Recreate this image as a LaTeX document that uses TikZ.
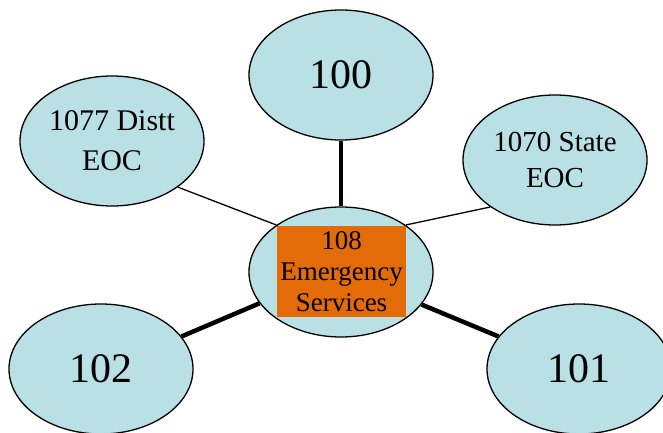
\documentclass[tikz,border=0pt]{standalone}
\usepackage{fontspec}
\setmainfont{Liberation Serif}
\usetikzlibrary{shapes.geometric}
\definecolor{bub}{HTML}{B9E0E4}
\definecolor{org}{HTML}{E36C09}
\begin{document}
\begin{tikzpicture}[x=1pt,y=-1pt,
  bubble/.style={ellipse, draw=black, line width=1.3pt, fill=bub,
    minimum width=184pt, minimum height=130pt, inner sep=0pt, align=center},
  big/.style={font=\fontsize{42}{48}\selectfont},
  mid/.style={font=\fontsize{30}{38}\selectfont},
  weaklink/.style={draw=black, line width=1.3pt},
  stronglink/.style={draw=black, line width=4.5pt},
  core/.style={rectangle, fill=org, minimum width=129pt, minimum height=91pt,
    inner sep=0pt, align=center, font=\fontsize{27}{31}\selectfont}
]
\path[use as bounding box, clip] (0,0) rectangle (663,433);

\node[bubble] (hub) at (341,272) {};
\node[core] (hubtxt) at (341.5,271.5) {108\\Emergency\\Services};

\node[bubble, big] (n100) at (341,75) {100};
\node[bubble, mid] (n1077) at (112,141) {1077 Distt\\[2pt]EOC};
\node[bubble, mid, font=\fontsize{29}{36}\selectfont] (n1070) at (555,160) {1070 State\\EOC};
\node[bubble, big] (n102) at (101,369) {102};
\node[bubble, big] (n101) at (579,369) {101};

\draw[stronglink] (n100.south) -- (hub.north);
\draw[weaklink] (n1077.-35) -- (hub.144);
\draw[weaklink] (n1070.216) -- (hub.36);
\draw[stronglink] (n102.22) -- (hub.201);
\draw[stronglink] (n101.158) -- (hub.-22);
\end{tikzpicture}
\end{document}
